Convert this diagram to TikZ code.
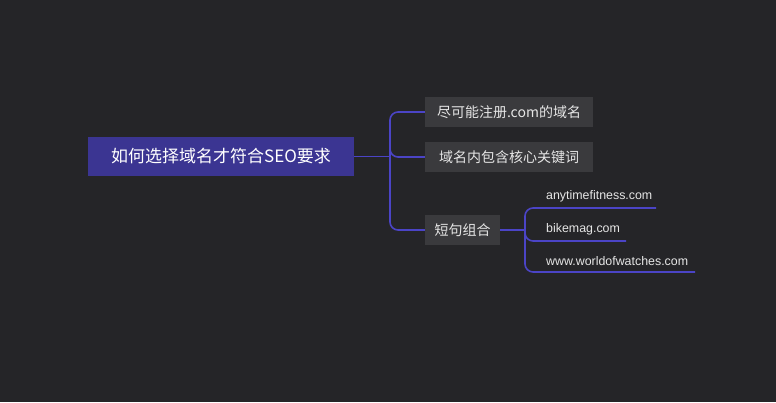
\documentclass[tikz,border=0pt]{standalone}
\usepackage{fontspec}
\setmainfont{Liberation Sans}
\newfontfamily\cjk{Noto Sans CJK SC}
\definecolor{bg}{HTML}{252528}
\definecolor{rootc}{HTML}{3B3592}
\definecolor{boxc}{HTML}{3A3A3D}
\definecolor{linec}{HTML}{4B44C6}
\definecolor{txt}{HTML}{E6E6E6}
\begin{document}
\begin{tikzpicture}[x=1pt,y=-1pt,
  rootbox/.style={fill=rootc,text=white,minimum width=266pt,minimum height=39pt,inner sep=0pt,font=\cjk\fontsize{17}{19}\selectfont},
  childbox/.style={fill=boxc,text=txt,minimum height=30pt,inner sep=0pt,font=\cjk\fontsize{14}{16}\selectfont},
  leaf/.style={text=txt,anchor=west,inner sep=0pt,font=\fontsize{12.4}{14}\selectfont},
  conn/.style={draw=linec,line width=1.6pt,rounded corners=8pt}]
\fill[bg] (0,0) rectangle (776,402);
\useasboundingbox (0,0) rectangle (776,402);
\node[rootbox] (root) at (221,156.5) {如何选择域名才符合SEO要求};
\node[childbox,minimum width=168pt] (c1) at (509,112) {尽可能注册.com的域名};
\node[childbox,minimum width=168pt] (c2) at (509,157) {域名内包含核心关键词};
\node[childbox,minimum width=75pt] (c3) at (462.5,230) {短句组合};
\coordinate (t) at (390,156.5);
\draw[conn] (root.east) -- (t);
\draw[conn] (t) |- (c1.west);
\draw[conn] (t) -- (c2.west -| t) -- (c2.west);
\draw[conn] (t) |- (c3.west);
\node[leaf] (l1) at (546,196) {anytimefitness.com};
\node[leaf] (l2) at (546,229) {bikemag.com};
\node[leaf] (l3) at (546,261) {www.worldofwatches.com};
\coordinate (s) at (525,230);
\coordinate (u1) at (656,208);
\coordinate (u2) at (626,241);
\coordinate (u3) at (695,272);
\draw[conn] (c3.east) -- (s);
\draw[conn] (s) |- (u1);
\draw[conn] (s) |- (u2);
\draw[conn] (s) |- (u3);
\end{tikzpicture}
\end{document}
